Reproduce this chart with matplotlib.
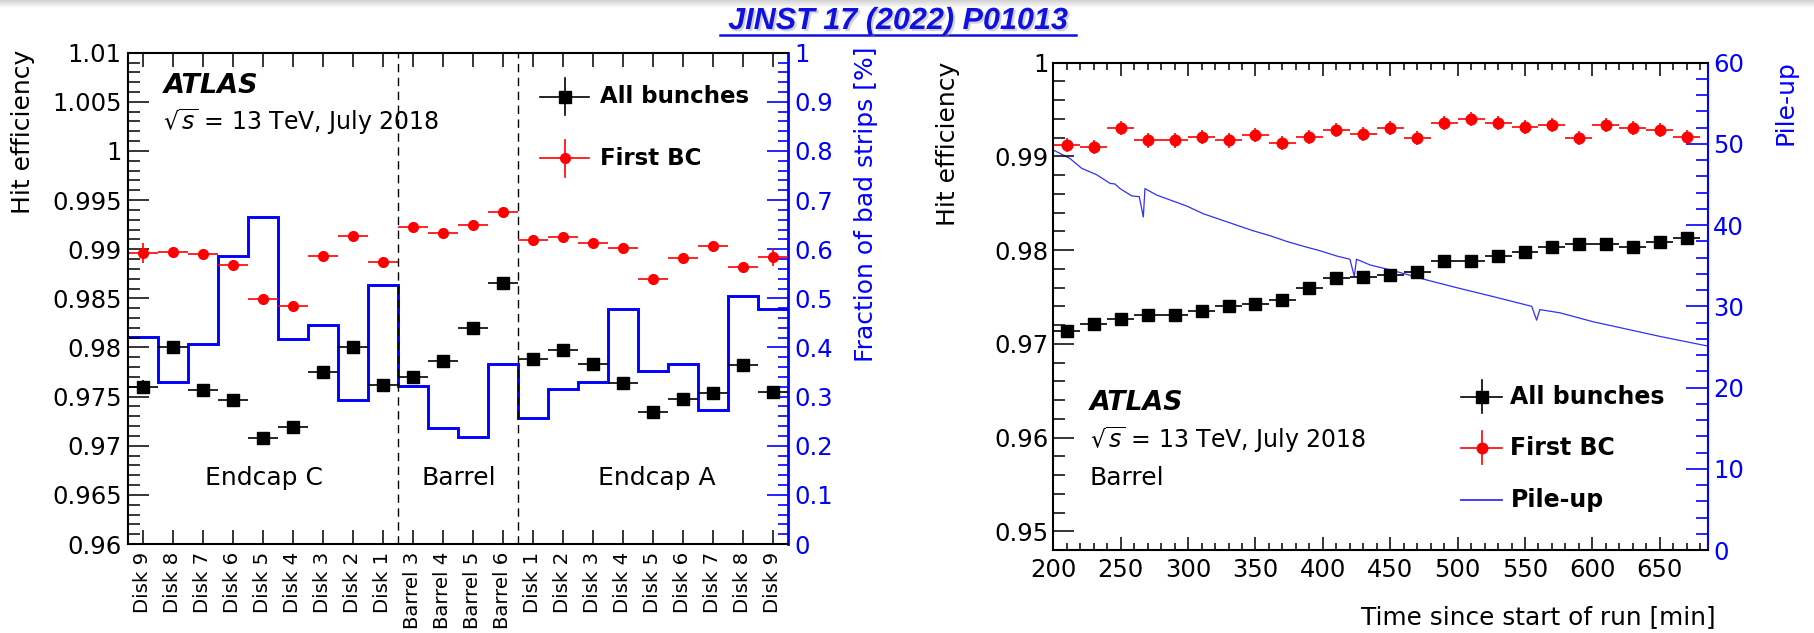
import numpy as np
import matplotlib
matplotlib.use('Agg')
import matplotlib.pyplot as plt
from matplotlib.ticker import MultipleLocator, FuncFormatter
from matplotlib.lines import Line2D
import matplotlib.patheffects as pe

plt.rcParams['font.family'] = ['DejaVu Sans']
plt.rcParams['mathtext.fontset'] = 'dejavusans'

# SCT layers, Endcap C -> Barrel -> Endcap A
layers = ['Disk 9', 'Disk 8', 'Disk 7', 'Disk 6', 'Disk 5', 'Disk 4', 'Disk 3', 'Disk 2', 'Disk 1',
          'Barrel 3', 'Barrel 4', 'Barrel 5', 'Barrel 6',
          'Disk 1', 'Disk 2', 'Disk 3', 'Disk 4', 'Disk 5', 'Disk 6', 'Disk 7', 'Disk 8', 'Disk 9']
eff_all = [0.9760, 0.9800, 0.9757, 0.9747, 0.9708, 0.9719, 0.9775, 0.9800, 0.9762,
           0.9770, 0.9786, 0.9820, 0.9866,
           0.9788, 0.9797, 0.9783, 0.9764, 0.9734, 0.9748, 0.9754, 0.9782, 0.9755]
err_all = [0.0007, 0.0003, 0.0003, 0.0003, 0.0003, 0.0003, 0.0003, 0.0003, 0.0003,
           0.0003, 0.0003, 0.0003, 0.0003,
           0.0003, 0.0003, 0.0003, 0.0003, 0.0003, 0.0003, 0.0003, 0.0003, 0.0006]
eff_first = [0.9896, 0.9897, 0.9895, 0.9884, 0.9849, 0.9842, 0.9893, 0.9913, 0.9887,
             0.9923, 0.9916, 0.9925, 0.9938,
             0.9909, 0.9912, 0.9906, 0.9901, 0.9870, 0.9891, 0.9903, 0.9882, 0.9892]
err_first = [0.0010, 0.0005, 0.0005, 0.0005, 0.0005, 0.0005, 0.0005, 0.0005, 0.0005,
             0.0005, 0.0005, 0.0005, 0.0005,
             0.0005, 0.0005, 0.0005, 0.0005, 0.0005, 0.0005, 0.0005, 0.0005, 0.0009]
bad_strips = [0.422, 0.330, 0.407, 0.586, 0.666, 0.417, 0.446, 0.293, 0.527,
              0.322, 0.237, 0.218, 0.366,
              0.256, 0.315, 0.330, 0.478, 0.352, 0.366, 0.273, 0.505, 0.478]
region_names = ['Endcap C', 'Barrel', 'Endcap A']

# barrel efficiency vs time since start of run
time_min = [210, 230, 250, 270, 290, 310, 330, 350, 370, 390, 410, 430,
            450, 470, 490, 510, 530, 550, 570, 590, 610, 630, 650, 670]
eff_all_t = [0.9714, 0.9721, 0.9726, 0.9731, 0.9731, 0.9735, 0.9740, 0.9743, 0.9747, 0.9760, 0.9770, 0.9771,
             0.9773, 0.9777, 0.9788, 0.9788, 0.9794, 0.9798, 0.9803, 0.9807, 0.9807, 0.9803, 0.9809, 0.9813]
eff_first_t = [0.9912, 0.9910, 0.9930, 0.9917, 0.9917, 0.9921, 0.9917, 0.9923, 0.9914, 0.9921, 0.9928, 0.9924,
               0.9930, 0.9920, 0.9936, 0.9940, 0.9936, 0.9931, 0.9934, 0.9920, 0.9934, 0.9930, 0.9928, 0.9921]
err_all_t = 0.0005
err_first_t = 0.00075
pileup_time = [200, 212.4, 221, 232.2, 242, 245.8, 249.5, 258.2, 263.8, 266.8, 268, 276.7, 286.6,
               299, 311.3, 323.7, 336, 348.4, 360.8, 373.1, 385.5, 397.8, 410.2, 420.1, 423.3,
               425, 435, 452.2, 477, 501.7, 526.4, 555, 558.6, 561, 576, 600.6, 625.4, 650, 686]
pileup = [49.25, 48.2, 47.0, 46.2, 45.15, 45.06, 44.5, 43.6, 43.5, 41.0, 44.5, 43.7, 43.1,
          42.35, 41.4, 40.7, 40.0, 39.3, 38.7, 38.0, 37.4, 36.85, 36.2, 35.8, 33.7,
          35.8, 35.1, 34.4, 33.25, 32.2, 31.2, 30.0, 28.3, 29.6, 29.2, 28.1, 27.2, 26.3, 25.1]

W, H = 1814, 633
BLUE = '#0000ff'
RED = '#ff0000'
FS = 17.5


def fx(x):
    return x / W


def fy(y):
    return 1 - y / H


fmt = FuncFormatter(lambda v, p: f'{v:g}')

fig = plt.figure(figsize=(W / 100, H / 100), dpi=100)

# slide shadow along the top edge
band = fig.add_axes([0, 1 - 8 / H, 1, 8 / H])
band.imshow(np.linspace(0.82, 1.0, 50).reshape(-1, 1), cmap='gray', vmin=0, vmax=1,
            aspect='auto', extent=[0, 1, 0, 1])
band.axis('off')

# ---------------- left: efficiency per layer ----------------
ax = fig.add_axes([fx(127.7), fy(544), fx(787.7) - fx(127.7), fy(52.7) - fy(544)])
ax2 = ax.twinx()
ax.set_zorder(ax2.get_zorder() + 1)
ax.patch.set_visible(False)

xpos = np.arange(len(layers))
ax2.stairs(bad_strips, np.arange(len(layers) + 1) - 0.5, baseline=None, color=BLUE, lw=2.1)
ax.errorbar(xpos, eff_all, xerr=0.5, yerr=err_all, fmt='s', color='k', ms=8,
            elinewidth=1.2, capsize=0)
ax.errorbar(xpos, eff_first, xerr=0.5, yerr=err_first, fmt='o', color=RED, ms=7,
            elinewidth=1.2, capsize=0)

for b in (8.5, 12.5):
    ax.axvline(b, color='k', lw=1.0, ls=(0, (6, 4)))

ax.set_xlim(-0.5, len(layers) - 0.5)
ax.set_ylim(0.96, 1.01)
ax2.set_ylim(0, 1)

ax.set_xticks(xpos)
ax.set_xticklabels(layers, rotation=90, fontsize=14.2, va='top')
ax.tick_params(axis='x', direction='in', length=10, width=1.1, top=True, pad=5.5)
ax.yaxis.set_major_locator(MultipleLocator(0.005))
ax.yaxis.set_minor_locator(MultipleLocator(0.001))
ax.yaxis.set_major_formatter(fmt)
ax.tick_params(axis='y', which='major', direction='in', length=15, width=1.1,
               labelsize=FS, pad=4.3, right=False)
ax.tick_params(axis='y', which='minor', direction='in', length=8.6, width=1.1, right=False)

ax2.yaxis.set_major_locator(MultipleLocator(0.1))
ax2.yaxis.set_minor_locator(MultipleLocator(0.02))
ax2.yaxis.set_major_formatter(fmt)
ax2.tick_params(axis='y', which='major', direction='in', length=15, width=1.2,
                colors=BLUE, labelsize=FS, pad=4.8)
ax2.tick_params(axis='y', which='minor', direction='in', length=7.2, width=1.2, colors=BLUE)

for s in ax.spines.values():
    s.set_linewidth(1.5)
ax.spines['right'].set_visible(False)
for k in ('top', 'left', 'bottom'):
    ax2.spines[k].set_visible(False)
ax2.spines['right'].set_color(BLUE)
ax2.spines['right'].set_linewidth(2)

fig.text(fx(23), fy(50), 'Hit efficiency', rotation=90, ha='center', va='top', fontsize=18)
fig.text(fx(866), fy(47), 'Fraction of bad strips [%]', rotation=90, ha='center', va='top',
         fontsize=18, color=BLUE)

fig.text(fx(163.8), fy(86), 'ATLAS', fontsize=19.5, weight='bold', style='italic', va='center')
fig.text(fx(163), fy(121.7), r'$\sqrt{s}$ = 13 TeV, July 2018', fontsize=17, va='center')
for name, xc in zip(region_names, (264, 459, 657)):
    fig.text(fx(xc), fy(478.3), name, fontsize=18, ha='center', va='center')

# legend keys
for yc, col, mk, ms, label in ((96.7, 'k', 's', 8, 'All bunches'), (158.3, RED, 'o', 7, 'First BC')):
    fig.add_artist(Line2D([fx(540), fx(589)], [fy(yc), fy(yc)], color=col, lw=1.2,
                          transform=fig.transFigure))
    fig.add_artist(Line2D([fx(564.5), fx(564.5)], [fy(yc - 18.5), fy(yc + 18.5)], color=col, lw=1.2,
                          transform=fig.transFigure))
    fig.add_artist(Line2D([fx(564.5)], [fy(yc)], marker=mk, ms=ms, color=col, ls='none',
                          transform=fig.transFigure))
    fig.text(fx(599.7), fy(yc), label, fontsize=16.5, weight='bold', va='center')

# ---------------- right: efficiency vs time ----------------
bx = fig.add_axes([fx(1053.3), fy(550), fx(1708.3) - fx(1053.3), fy(62.7) - fy(550)])
bx2 = bx.twinx()
bx.set_zorder(bx2.get_zorder() + 1)
bx.patch.set_visible(False)

bx2.plot(pileup_time, pileup, color='#3030ff', lw=0.9)
bx.errorbar(time_min, eff_all_t, xerr=10, yerr=err_all_t, fmt='s', color='k', ms=8.4,
            elinewidth=1.2, capsize=0)
bx.errorbar(time_min, eff_first_t, xerr=10, yerr=err_first_t, fmt='o', color=RED, ms=7.6,
            elinewidth=1.2, capsize=0)

bx.set_xlim(200, 686)
bx.set_ylim(0.948, 1.0)
bx2.set_ylim(0, 60)

bx.xaxis.set_major_locator(MultipleLocator(50))
bx.xaxis.set_minor_locator(MultipleLocator(10))
bx.tick_params(axis='x', which='major', direction='in', length=9.4, width=1.1, top=True,
               labelsize=FS, pad=5.8)
bx.tick_params(axis='x', which='minor', direction='in', length=5, width=1.1, top=True)
bx.yaxis.set_major_locator(MultipleLocator(0.01))
bx.yaxis.set_minor_locator(MultipleLocator(0.002))
bx.yaxis.set_major_formatter(fmt)
bx.tick_params(axis='y', which='major', direction='in', length=15, width=1.1,
               labelsize=FS, pad=3.3, right=False)
bx.tick_params(axis='y', which='minor', direction='in', length=8.6, width=1.1, right=False)

bx2.yaxis.set_major_locator(MultipleLocator(10))
bx2.yaxis.set_minor_locator(MultipleLocator(2))
bx2.yaxis.set_major_formatter(fmt)
bx2.tick_params(axis='y', which='major', direction='in', length=15.5, width=1.2,
                colors=BLUE, labelsize=FS, pad=3.6)
bx2.tick_params(axis='y', which='minor', direction='in', length=8.6, width=1.2, colors=BLUE)

for s in bx.spines.values():
    s.set_linewidth(1.5)
bx.spines['right'].set_visible(False)
for k in ('top', 'left', 'bottom'):
    bx2.spines[k].set_visible(False)
bx2.spines['right'].set_color(BLUE)
bx2.spines['right'].set_linewidth(1.5)

fig.text(fx(948), fy(62), 'Hit efficiency', rotation=90, ha='center', va='top', fontsize=18)
fig.text(fx(1786), fy(60), 'Pile-up', rotation=90, ha='center', va='top', fontsize=18, color=BLUE)
fig.text(fx(1716), fy(616.7), 'Time since start of run [min]', ha='right', va='center', fontsize=17.8)

fig.text(fx(1089.5), fy(403), 'ATLAS', fontsize=19.3, weight='bold', style='italic', va='center')
fig.text(fx(1090), fy(440), r'$\sqrt{s}$ = 13 TeV, July 2018', fontsize=17, va='center')
fig.text(fx(1090), fy(478.3), 'Barrel', fontsize=18, va='center')

for yc, col, mk, ms, label in ((396.7, 'k', 's', 8.4, 'All bunches'), (447.7, RED, 'o', 7.6, 'First BC')):
    fig.add_artist(Line2D([fx(1461), fx(1502)], [fy(yc), fy(yc)], color=col, lw=1.2,
                          transform=fig.transFigure))
    fig.add_artist(Line2D([fx(1481.5), fx(1481.5)], [fy(yc - 16.5), fy(yc + 16.5)], color=col, lw=1.2,
                          transform=fig.transFigure))
    fig.add_artist(Line2D([fx(1481.5)], [fy(yc)], marker=mk, ms=ms, color=col, ls='none',
                          transform=fig.transFigure))
    fig.text(fx(1510.5), fy(yc), label, fontsize=17, weight='bold', va='center')
fig.add_artist(Line2D([fx(1461), fx(1502)], [fy(500), fy(500)], color='#3030ff', lw=1.3,
                      transform=fig.transFigure))
fig.text(fx(1510.5), fy(500), 'Pile-up', fontsize=17, weight='bold', va='center')

# reference header
fig.text(fx(898), fy(21), 'JINST 17 (2022) P01013', fontsize=22, style='italic', weight='bold',
         family=['Liberation Sans', 'DejaVu Sans'], color='#1010e0', ha='center', va='center',
         path_effects=[pe.withSimplePatchShadow(offset=(1.5, -1.5), shadow_rgbFace='#9090a0', alpha=0.4)])
fig.add_artist(Line2D([fx(720), fx(1076)], [fy(35), fy(35)], color='#1010e0', lw=1.8,
                      transform=fig.transFigure))

fig.savefig('out.png', dpi=100)
